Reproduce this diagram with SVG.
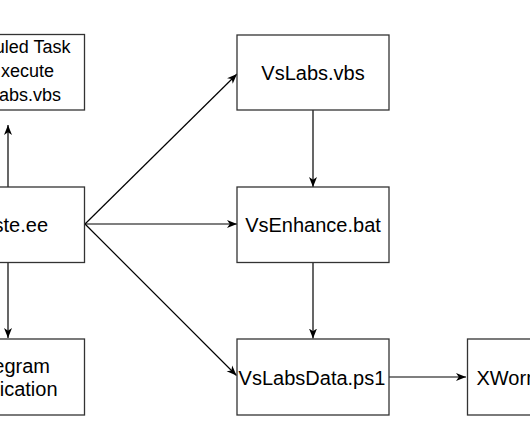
<svg xmlns="http://www.w3.org/2000/svg" width="530" height="442" viewBox="0 0 530 442">
<style>
.box{fill:#fff;stroke:#333;stroke-width:1.3}
.t{font-family:"Liberation Sans",Arial,Helvetica,sans-serif;font-size:20px;fill:#000}
.s{font-size:18px}
.edge{fill:none;stroke:#000;stroke-width:1.2}
</style>
<defs>
<marker id="arr" markerUnits="userSpaceOnUse" markerWidth="11" markerHeight="9" refX="10" refY="4.5" orient="auto" viewBox="0 0 11 9">
<path d="M0,0.5 L10,4.5 L0,8.5 L2.8,4.5 Z" fill="#000"/>
</marker>
</defs>
<rect width="530" height="442" fill="#fff"/>
<g id="connectors">
<line class="edge" x1="8" y1="187" x2="8" y2="125" marker-end="url(#arr)"/>
<line class="edge" x1="8" y1="263" x2="8" y2="338" marker-end="url(#arr)"/>
<line class="edge" x1="85" y1="224" x2="237" y2="74" marker-end="url(#arr)"/>
<line class="edge" x1="85" y1="224" x2="237" y2="224" marker-end="url(#arr)"/>
<line class="edge" x1="85" y1="224" x2="236.5" y2="375.5" marker-end="url(#arr)"/>
<line class="edge" x1="313" y1="110" x2="313" y2="187" marker-end="url(#arr)"/>
<line class="edge" x1="313" y1="263" x2="313" y2="338.5" marker-end="url(#arr)"/>
<line class="edge" x1="389" y1="377" x2="466" y2="377" marker-end="url(#arr)"/>
</g>
<g id="scheduled-task">
<rect class="box" x="-70" y="34.5" width="154.5" height="75.5"/>
<text class="t s" x="70.5" y="53" text-anchor="end">uled Task</text>
<text class="t s" x="54" y="77" text-anchor="end">xecute</text>
<text class="t s" x="61" y="100.5" text-anchor="end">abs.vbs</text>
</g>
<g id="paste-ee">
<rect class="box" x="-70" y="187" width="154.5" height="75.5"/>
<text class="t" x="48" y="232" text-anchor="end">ste.ee</text>
</g>
<g id="telegram">
<rect class="box" x="-70" y="339" width="154.5" height="76"/>
<text class="t" x="50" y="373" text-anchor="end">egram</text>
<text class="t" x="57.5" y="396" text-anchor="end">ication</text>
</g>
<g id="vslabs-vbs">
<rect class="box" x="237" y="35" width="152" height="75"/>
<text class="t" x="313" y="80" text-anchor="middle">VsLabs.vbs</text>
</g>
<g id="vsenhance-bat">
<rect class="box" x="237" y="187" width="152" height="75.5"/>
<text class="t" x="313" y="232" text-anchor="middle">VsEnhance.bat</text>
</g>
<g id="vslabsdata-ps1">
<rect class="box" x="237" y="339" width="152" height="76"/>
<text class="t" x="312" y="385" text-anchor="middle">VsLabsData.ps1</text>
</g>
<g id="xworm">
<rect class="box" x="467.5" y="339" width="152" height="76"/>
<text class="t" x="476.5" y="384.5">XWorm</text>
</g>
</svg>
